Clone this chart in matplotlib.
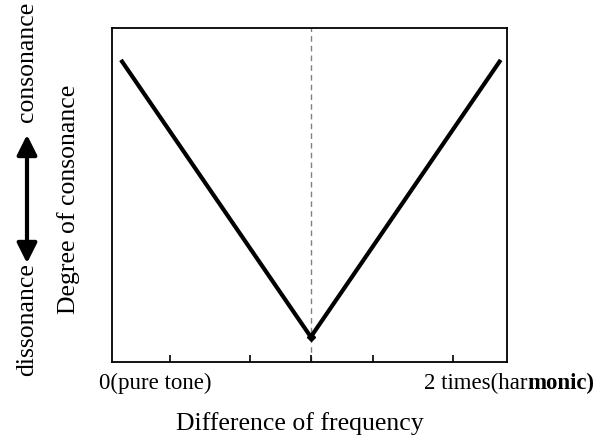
import matplotlib.pyplot as plt
from matplotlib.patches import FancyArrowPatch

# Degree of consonance vs frequency difference (schematic V shape)
x_pts = [-1.0, 0.0, 1.0]
y_pts = [1.0, 0.0, 1.0]
tick_pos = [-0.74, -0.32, 0.0, 0.33, 0.75]
label_left = '0(pure tone)'
label_right = ('2 times(har', 'monic)')

plt.rcParams['font.family'] = 'Liberation Serif'

fig = plt.figure(figsize=(5.99, 4.36), dpi=100)
ax = fig.add_axes([0.187, 0.170, 0.659, 0.766])

ax.axvline(0, color='#808080', linestyle=(0, (4, 3)), linewidth=1.0, zorder=1)
ax.plot(x_pts, y_pts, color='black', linewidth=3.0, solid_capstyle='butt', zorder=3)
ax.plot([x_pts[1]], [y_pts[1]], marker='D', color='black', markersize=4, zorder=4)

ax.set_xlim(-1.047, 1.032)
ax.set_ylim(-0.09, 1.1155)
ax.set_xticks(tick_pos)
ax.set_xticklabels([])
ax.set_yticks([])
ax.tick_params(axis='x', direction='in', length=5, width=1.2)
for sp in ax.spines.values():
    sp.set_linewidth(1.3)

fs = 18.5
fs_tick = 16.5
base_y = 1 - 389 / 436
fig.text(155 / 599, base_y, label_left, ha='center', va='baseline', fontsize=fs_tick)
t1 = fig.text(424 / 599, base_y, label_right[0], ha='left', va='baseline', fontsize=fs_tick)
fig.canvas.draw()
bb = t1.get_window_extent()
fig.text(bb.x1 / fig.bbox.width, base_y, label_right[1], ha='left', va='baseline',
         fontsize=fs_tick, fontweight='bold')

fig.text(300 / 599, 1 - 424 / 436, 'Difference of frequency', ha='center', va='center', fontsize=fs)
fig.text(69 / 599, 1 - 199 / 436, 'Degree of consonance', ha='center', va='center',
         rotation=90, fontsize=fs)
fig.text(27 / 599, 1 - 62 / 436, 'consonance', ha='center', va='center',
         rotation=90, fontsize=fs)
fig.text(27 / 599, 1 - 320 / 436, 'dissonance', ha='center', va='center',
         rotation=90, fontsize=fs)

fig.patches.append(FancyArrowPatch(
    (27 / 599, 1 - 266 / 436), (27 / 599, 1 - 132 / 436),
    transform=fig.transFigure, arrowstyle='<|-|>', mutation_scale=30,
    linewidth=3, color='black'))

fig.savefig('out.png', dpi=100, facecolor='white')
